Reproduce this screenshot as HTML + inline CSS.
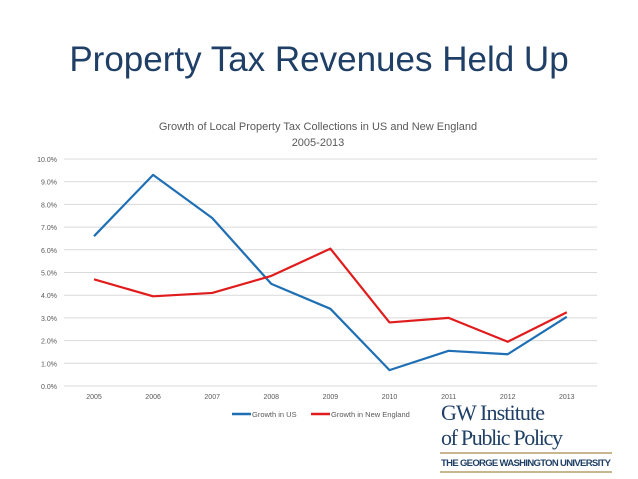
<!DOCTYPE html>
<html><head><meta charset="utf-8"><style>
body{margin:0;width:638px;height:479px;background:#fff;overflow:hidden;font-family:"Liberation Sans",sans-serif;position:relative}
.t{position:absolute}
</style></head><body>
<div class="t" style="left:0;width:638px;top:40px;text-align:center;font-size:35px;color:#1f3f66">Property Tax Revenues Held Up</div>
<svg width="638" height="479" style="position:absolute;left:0;top:0">
<g id="grid"></g><g id="series"></g>
<text x="318" y="130" text-anchor="middle" font-size="11" fill="#595959">Growth of Local Property Tax Collections in US and New England</text>
<text x="318" y="146" text-anchor="middle" font-size="11" fill="#595959">2005-2013</text>
<g>
<line x1="232" y1="414" x2="251" y2="414" stroke="#1f6fb4" stroke-width="2.5"/>
<text x="252" y="417" font-size="7.5" fill="#595959">Growth in US</text>
<line x1="311" y1="414" x2="330" y2="414" stroke="#e01c1c" stroke-width="2.5"/>
<text x="331" y="417" font-size="7.5" fill="#595959">Growth in New England</text>
</g>
<g>
<text x="441" y="420" font-family="Liberation Serif,serif" font-size="22" fill="#1f3f66" textLength="104">GW Institute</text>
<text x="441" y="445" font-family="Liberation Serif,serif" font-size="22" fill="#1f3f66" textLength="122">of Public Policy</text>
<line x1="440" y1="453" x2="612" y2="453" stroke="#c8b68e" stroke-width="2"/>
<text x="441" y="466" font-size="9.5" font-weight="bold" fill="#1f3f66" textLength="170" lengthAdjust="spacing">THE GEORGE WASHINGTON UNIVERSITY</text>
<line x1="440" y1="472" x2="612" y2="472" stroke="#c8b68e" stroke-width="2"/>
</g>
</svg>
<script>
const years=["2005","2006","2007","2008","2009","2010","2011","2012","2013"];
const usValues=[6.6,9.3,7.4,4.5,3.4,0.7,1.55,1.4,3.05];
const neValues=[4.7,3.95,4.1,4.85,6.05,2.8,3.0,1.95,3.25];
const yTicks=[0,1,2,3,4,5,6,7,8,9,10];
const NS="http://www.w3.org/2000/svg";
const X=i=>94+i*59.1, Y=v=>386-v*22.7;
const grid=document.getElementById('grid'), ser=document.getElementById('series');
function mk(tag,attrs,parent,txt){const e=document.createElementNS(NS,tag);for(const k in attrs)e.setAttribute(k,attrs[k]);if(txt!==undefined)e.textContent=txt;parent.appendChild(e);return e;}
yTicks.forEach(t=>{
 const l=mk('line',{x1:64,x2:597,y1:Y(t),y2:Y(t),stroke:'#d9d9d9','stroke-width':1},grid);
 
 
 const tx=mk('text',{x:57,y:Y(t)+3,'text-anchor':'end','font-size':7,fill:'#595959'},grid,t.toFixed(1)+'%');
 
 
});
years.forEach((y,i)=>{
 const tx=mk('text',{x:X(i),y:399,'text-anchor':'middle','font-size':7,fill:'#595959'},grid,y);
 
 
});
function line(vals,color,name){
 const p=mk('polyline',{points:vals.map((v,i)=>X(i)+','+Y(v)).join(' '),fill:'none',stroke:color,'stroke-width':2.2,'stroke-linejoin':'round'},ser);
 
 
}
line(usValues,'#1f6fb4','line-growth-us');
line(neValues,'#e01c1c','line-growth-new-england');
</script>
</body></html>
